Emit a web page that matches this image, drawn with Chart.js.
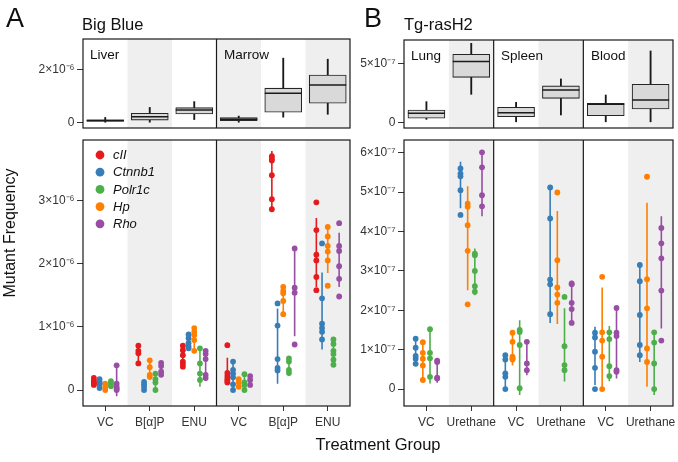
<!DOCTYPE html>
<html><head><meta charset="utf-8">
<script src="https://cdn.jsdelivr.net/npm/chart.js@4.4.1/dist/chart.umd.min.js"></script>
<style>
body{margin:0;background:#fff;width:678px;height:462px;overflow:hidden;position:relative;font-family:"Liberation Sans",Arial,Helvetica,sans-serif;color:#111}
canvas{position:absolute}
.t{position:absolute;white-space:nowrap;line-height:1}
</style></head><body>
<canvas id="aTop" width="360" height="102" style="left:0;top:30px"></canvas>
<canvas id="aBot" width="360" height="310" style="left:0;top:132px"></canvas>
<canvas id="bTop" width="318" height="102" style="left:360px;top:30px"></canvas>
<canvas id="bBot" width="318" height="310" style="left:360px;top:132px"></canvas>
<script>
// ---------------- DATA ----------------
const A_UNIT = 1e-6;
const B_UNIT = 1e-7;
const A_categories = ["VC","B[α]P","ENU","VC","B[α]P","ENU"];
const B_categories = ["VC","Urethane","VC","Urethane","VC","Urethane"];
const A_tissues = ["Liver","Marrow"];
const B_tissues = ["Lung","Spleen","Blood"];
const A_genes = ["cII","Ctnnb1","Hp","Polr1c","Rho"];       // dodge order
const A_legend = ["cII","Ctnnb1","Polr1c","Hp","Rho"];      // legend order
const B_genes = ["Ctnnb1","Hp","Polr1c","Rho"];
const GENE_COLORS = {cII:"#E41A1C", Ctnnb1:"#377EB8", Polr1c:"#4DAF4A", Hp:"#FF7F00", Rho:"#984EA3"};
const A_yTicks = [0,1,2,3];
const A_topTicks = [0,2];
const B_yTicks = [0,1,2,3,4,5,6];
const B_topTicks = [0,5];

// top box plots (A in 1e-6, B in 1e-7)
const A_box_min = [0.00,0.00,0.12,0.00,0.21,0.32];
const A_box_q1  = [0.05,0.10,0.33,0.08,0.40,0.74];
const A_box_med = [0.08,0.23,0.48,0.13,1.12,1.43];
const A_box_q3  = [0.11,0.36,0.57,0.19,1.31,1.81];
const A_box_max = [0.20,0.58,0.80,0.25,2.45,2.41];
const B_box_min = [0.25,2.37,0.00,0.62,0.00,0.00];
const B_box_q1  = [0.34,3.81,0.47,2.03,0.56,1.13];
const B_box_med = [0.76,5.14,0.81,2.74,1.53,1.89];
const B_box_q3  = [1.04,5.76,1.27,3.08,1.61,3.22];
const B_box_max = [1.75,6.69,1.69,3.67,2.31,6.04];

// Big Blue points (1e-6) per category
const A_cII_points = [[0.19,0.15,0.12,0.08,0.10],[0.70,0.62,0.58,0.42],[0.70,0.63,0.55,0.45,0.41,0.37],[0.71,0.27,0.22,0.18,0.15,0.12],[3.70,3.66,3.63,3.40,3.02,2.86],[2.97,2.53,2.14,2.05,1.79,1.58]];
const A_cII_ranges = [[0.06,0.21],[0.41,0.73],[0.34,0.73],[0.10,0.51],[2.84,3.78],[1.63,2.72]];
const A_Ctnnb1_points = [[0.17,0.13,0.09,0.03,0.11],[0.13,0.09,0.05,0.00],[0.88,0.82,0.74,0.69,0.66],[0.45,0.32,0.26,0.20,0.09,0.00],[1.37,1.02,0.49,0.35,0.31],[2.32,1.45,1.05,0.98,0.92,0.80]];
const A_Ctnnb1_ranges = [[0.02,0.19],[-0.01,0.14],[0.63,0.91],[-0.02,0.45],[0.10,1.29],[0.64,1.86]];
const A_Hp_points = [[0.10,0.05,0.00],[0.47,0.36,0.24,0.21],[0.98,0.92,0.87,0.79,0.62],[0.17,0.12,0.05],[1.63,1.57,1.53,1.41,1.20],[2.58,2.43,2.28,2.19,2.05,1.65]];
const A_Hp_ranges = [[-0.02,0.12],[0.16,0.47],[0.60,0.99],[0.04,0.18],[1.20,1.66],[1.85,2.58]];
const A_Polr1c_points = [[0.14,0.10,0.06],[0.26,0.17,0.12,0.00],[0.66,0.42,0.26,0.16],[0.25,0.12,0.08,0.00],[0.50,0.45,0.32,0.27],[0.80,0.73,0.62,0.57,0.48,0.40]];
const A_Polr1c_ranges = [[0.05,0.15],[-0.02,0.27],[0.05,0.66],[0.00,0.26],[0.22,0.52],[0.40,0.82]];
const A_Rho_points = [[0.39,0.10,0.05,0.00,0.02],[0.43,0.38,0.29,0.24],[0.62,0.57,0.49,0.24,0.19],[0.22,0.16,0.08],[2.24,1.62,1.54,0.72],[2.64,2.28,2.20,1.96,1.76,1.48]];
const A_Rho_ranges = [[-0.10,0.36],[0.21,0.45],[0.15,0.65],[0.05,0.24],[0.85,2.24],[1.63,2.49]];

// Tg-rasH2 points (1e-7) per category
const B_Ctnnb1_points = [[1.28,1.05,0.84,0.77,0.64],[5.60,5.47,5.40,5.05,4.42],[0.86,0.75,0.40,0.31,0.00],[5.12,4.33,2.78,2.66,1.90],[1.43,1.31,0.95,0.54,0.00],[3.15,2.74,1.88,1.12,0.86]];
const B_Ctnnb1_ranges = [[0.65,1.28],[4.59,5.77],[0.02,0.90],[1.68,5.12],[0.10,1.58],[0.69,3.15]];
const B_Hp_points = [[1.19,0.92,0.77,0.60,0.23],[4.71,4.63,4.16,3.51,2.15],[1.43,1.20,0.82,0.78,0.75],[4.99,3.27,2.58,2.40,2.19],[2.85,1.44,1.23,0.82,0.00],[5.39,2.79,2.05,1.03,0.69]];
const B_Hp_ranges = [[0.22,1.20],[2.51,5.15],[0.60,1.45],[1.65,4.52],[0.00,2.58],[0.06,4.73]];
const B_Polr1c_points = [[1.52,0.92,0.78,0.31],[3.44,3.40,3.00,2.61,2.47],[1.50,1.45,1.12,0.02],[2.34,1.09,0.61,0.48],[1.44,1.27,0.58,0.33],[1.44,1.18,0.65,0.00]];
const B_Polr1c_ranges = [[0.14,1.50],[2.38,3.57],[-0.15,1.75],[0.19,2.05],[0.20,1.60],[-0.15,1.45]];
const B_Rho_points = [[0.72,0.69,0.29,0.27],[6.01,5.63,4.92,4.64],[1.20,0.65,0.48],[2.68,2.66,2.19,2.03,1.68],[2.06,1.43,1.35,0.48,0.44],[4.09,3.70,3.32,2.50,1.23]];
const B_Rho_ranges = [[0.16,0.74],[4.39,6.01],[0.35,1.20],[1.65,2.75],[0.27,2.06],[1.54,4.39]];

const A_points = {cII:A_cII_points, Ctnnb1:A_Ctnnb1_points, Hp:A_Hp_points, Polr1c:A_Polr1c_points, Rho:A_Rho_points};
const A_ranges = {cII:A_cII_ranges, Ctnnb1:A_Ctnnb1_ranges, Hp:A_Hp_ranges, Polr1c:A_Polr1c_ranges, Rho:A_Rho_ranges};
const B_points = {Ctnnb1:B_Ctnnb1_points, Hp:B_Hp_points, Polr1c:B_Polr1c_points, Rho:B_Rho_points};
const B_ranges = {Ctnnb1:B_Ctnnb1_ranges, Hp:B_Hp_ranges, Polr1c:B_Polr1c_ranges, Rho:B_Rho_ranges};

// ---------------- HELPERS ----------------
const FONT = '"Liberation Sans", Arial, Helvetica, sans-serif';
const TICK_COLOR = '#333';
const DODGE = 0.64;

function label(txt, x, baseline, size, extra) {
  const d = document.createElement('div');
  d.className = 't';
  d.textContent = txt;
  d.style.fontSize = size + 'px';
  d.style.left = x + 'px';
  d.style.top = (baseline - 0.8465 * size) + 'px';
  if (extra) Object.assign(d.style, extra);
  document.body.appendChild(d);
  return d;
}

function fmt(unit, sup) {
  return (v) => { const k = Math.round(v / unit); return k === 0 ? '0' : k + '×10' + sup; };
}

function noPad(s) { s.paddingTop = 0; s.paddingBottom = 0; s.paddingLeft = 0; s.paddingRight = 0; }

function panelPlugin(shade, dividers) {
  return {
    id: 'panel',
    beforeDatasetsDraw(chart) {
      const {ctx, chartArea: ca, scales: {x}} = chart;
      ctx.save();
      ctx.fillStyle = '#efefef';
      shade.forEach(i => {
        const l = x.getPixelForValue(i - 0.5), r = x.getPixelForValue(i + 0.5);
        ctx.fillRect(l, ca.top, r - l, ca.bottom - ca.top);
      });
      ctx.restore();
    },
    afterDatasetsDraw(chart) {
      const {ctx, chartArea: ca, scales: {x}} = chart;
      ctx.save();
      ctx.strokeStyle = '#1a1a1a';
      ctx.lineWidth = 1.2;
      ctx.strokeRect(ca.left, ca.top, ca.right - ca.left, ca.bottom - ca.top);
      dividers.forEach(d => {
        const px = x.getPixelForValue(d);
        ctx.beginPath(); ctx.moveTo(px, ca.top); ctx.lineTo(px, ca.bottom); ctx.stroke();
      });
      ctx.restore();
    }
  };
}

function yScale(min, max, ticks, unit, sup, width) {
  return {
    type: 'linear', min: min * unit, max: max * unit,
    afterBuildTicks: s => { s.ticks = ticks.map(v => ({value: v * unit})); },
    afterFit: s => { s.width = width; noPad(s); },
    ticks: {callback: fmt(unit, sup), font: {family: FONT, size: 12}, color: TICK_COLOR, padding: 2.5},
    grid: {display: true, drawOnChartArea: false, drawTicks: true, tickLength: 6, tickColor: '#333', lineWidth: 1},
    border: {display: false}
  };
}

function xScaleLower(cats, height) {
  return {
    type: 'linear', min: -0.5, max: cats.length - 0.5, offset: false,
    afterBuildTicks: s => { s.ticks = cats.map((c, i) => ({value: i})); },
    afterFit: s => { s.height = height; noPad(s); },
    ticks: {callback: (v, i) => cats[i], autoSkip: false, maxRotation: 0, minRotation: 0,
            font: {family: FONT, size: 12}, color: TICK_COLOR, padding: 4},
    grid: {display: true, drawOnChartArea: false, drawTicks: true, tickLength: 5, tickColor: '#333', lineWidth: 1},
    border: {display: false}
  };
}

function boxDatasets(mn, q1, md, q3, mx, unit) {
  return [
    {type: 'bar', data: mn.map((v, i) => ({x: i, y: [v * unit, mx[i] * unit]})),
     backgroundColor: '#1a1a1a', borderWidth: 0, barThickness: 1.2, grouped: false, order: 3},
    {type: 'bar', data: q1.map((v, i) => ({x: i, y: [v * unit, q3[i] * unit]})),
     backgroundColor: '#d9d9d9', borderColor: '#262626', borderWidth: 1.1, borderSkipped: false,
     barThickness: 37, grouped: false, order: 2},
    {type: 'scatter', data: md.map((v, i) => ({x: i, y: v * unit})),
     pointStyle: 'line', pointRadius: 18.5, pointHoverRadius: 18.5,
     pointBorderColor: '#1a1a1a', pointBorderWidth: 1.5, order: 1}
  ];
}

function lowerDatasets(genes, pts, rng, unit) {
  const n = genes.length, ds = [];
  genes.forEach((g, k) => {
    const off = (k - (n - 1) / 2) * DODGE / n;
    const c = GENE_COLORS[g];
    const P = [], S = [];
    pts[g].forEach((arr, i) => arr.forEach(v => P.push({x: i + off, y: v * unit})));
    rng[g].forEach((r, i) => S.push({x: i + off, y: r[0] * unit}, {x: i + off, y: r[1] * unit}, {x: i + off, y: null}));
    ds.push({type: 'line', label: g + ' range', data: S, borderColor: c, borderWidth: 1.6,
             pointRadius: 0, fill: false, spanGaps: false, tension: 0, order: 2});
    ds.push({type: 'scatter', label: g, data: P, backgroundColor: c, pointBorderWidth: 0,
             pointRadius: 2.9, order: 1});
  });
  return ds;
}

const legendPlugin = {
  id: 'geneLegend',
  afterDraw(chart) {
    const {ctx, chartArea: ca} = chart;
    ctx.save();
    ctx.font = 'italic 13px ' + FONT;
    ctx.textBaseline = 'middle';
    A_legend.forEach((g, k) => {
      const y = ca.top + 15 + k * 17.2;
      ctx.fillStyle = GENE_COLORS[g];
      ctx.beginPath(); ctx.arc(ca.left + 17, y, 4.4, 0, Math.PI * 2); ctx.fill();
      ctx.fillStyle = '#111';
      ctx.fillText(g, ca.left + 30, y + 0.5);
    });
    ctx.restore();
  }
};

const common = {responsive: false, animation: false, devicePixelRatio: 1,
  plugins: {legend: {display: false}, tooltip: {enabled: false}}};

// ---------------- CHARTS ----------------
new Chart(document.getElementById('aTop'), {
  type: 'bar',
  data: {datasets: boxDatasets(A_box_min, A_box_q1, A_box_med, A_box_q3, A_box_max, A_UNIT)},
  options: Object.assign({}, common, {
    layout: {autoPadding: false, padding: {left: 0, top: 9, right: 10, bottom: 4}},
    scales: {
      x: {type: 'linear', min: -0.5, max: 5.5, offset: false, display: false},
      y: yScale(-0.201, 3.176, A_topTicks, A_UNIT, '\u207B\u2076', 83)
    }
  }),
  plugins: [panelPlugin([1, 3, 5], [2.5])]
});

new Chart(document.getElementById('aBot'), {
  type: 'scatter',
  data: {datasets: lowerDatasets(A_genes, A_points, A_ranges, A_UNIT)},
  options: Object.assign({}, common, {
    layout: {autoPadding: false, padding: {left: 0, top: 8, right: 10, bottom: 0}},
    scales: {
      x: xScaleLower(A_categories, 36),
      y: yScale(-0.253, 3.956, A_yTicks, A_UNIT, '\u207B\u2076', 83)
    }
  }),
  plugins: [panelPlugin([1, 3, 5], [2.5]), legendPlugin]
});

new Chart(document.getElementById('bTop'), {
  type: 'bar',
  data: {datasets: boxDatasets(B_box_min, B_box_q1, B_box_med, B_box_q3, B_box_max, B_UNIT)},
  options: Object.assign({}, common, {
    layout: {autoPadding: false, padding: {left: 0, top: 10, right: 5, bottom: 4}},
    scales: {
      x: {type: 'linear', min: -0.5, max: 5.5, offset: false, display: false},
      y: yScale(-0.483, 6.97, B_topTicks, B_UNIT, '\u207B\u2077', 44)
    }
  }),
  plugins: [panelPlugin([1, 3, 5], [1.5, 3.5])]
});

new Chart(document.getElementById('bBot'), {
  type: 'scatter',
  data: {datasets: lowerDatasets(B_genes, B_points, B_ranges, B_UNIT)},
  options: Object.assign({}, common, {
    layout: {autoPadding: false, padding: {left: 0, top: 8, right: 5, bottom: 0}},
    scales: {
      x: xScaleLower(B_categories, 36),
      y: yScale(-0.43, 6.323, B_yTicks, B_UNIT, '\u207B\u2077', 44)
    }
  }),
  plugins: [panelPlugin([1, 3, 5], [1.5, 3.5])]
});

// ---------------- TEXT ----------------
label('A', 6, 28, 27);
label('B', 364, 28, 27);
label('Big Blue', 82, 30, 16.5);
label('Tg-rasH2', 404, 30, 16.5);
label(A_tissues[0], 90, 59.5, 13.5);
label(A_tissues[1], 224, 59.5, 13.5);
label(B_tissues[0], 411, 60, 13.5);
label(B_tissues[1], 501, 60, 13.5);
label(B_tissues[2], 591, 60, 13.5);
label('Treatment Group', 228, 450, 16.5, {width: '300px', textAlign: 'center'});
label('Mutant Frequency', 9.5 - 100, 233 + 0.8465 * 16 - 8, 16,
      {width: '200px', textAlign: 'center', transform: 'rotate(-90deg)', transformOrigin: '50% 50%'});
</script>
</body></html>
